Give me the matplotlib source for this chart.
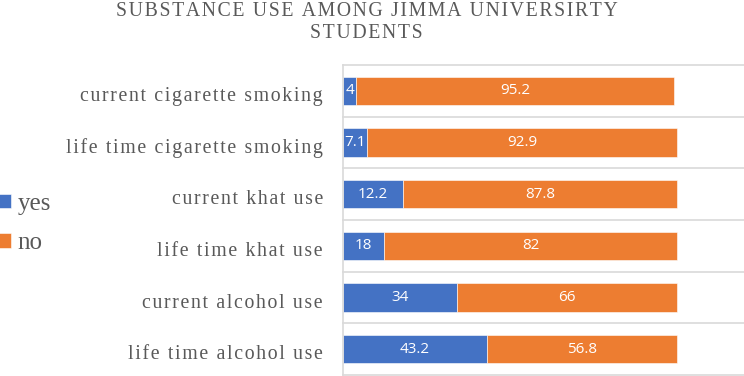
import matplotlib
matplotlib.use("Agg")
import matplotlib.pyplot as plt
import matplotlib.transforms as mtransforms
import numpy as np

categories = ["life time alcohol use", "current alcohol use", "life time khat use",
              "current khat use", "life time cigarette smoking", "current cigarette smoking"]
# bar lengths as drawn in the reference (khat rows' bars do not match their printed labels)
yes_vals = [43.2, 34, 12.2, 18, 7.1, 4]
no_vals = [56.8, 66, 87.8, 82, 92.9, 95.2]
# printed data labels as shown in the reference
yes_labels = ["43.2", "34", "18", "12.2", "7.1", "4"]
no_labels = ["56.8", "66", "82", "87.8", "92.9", "95.2"]
title = "SUBSTANCE USE AMONG JIMMA UNIVERSIRTY\nSTUDENTS"

BLUE = "#4472C4"
ORANGE = "#ED7D31"
GRAY = "#595959"
GRID = "#D9D9D9"
SERIF = ["Liberation Serif", "DejaVu Serif"]
HS = "\u200a"

def spaced(s):
    return HS.join(list(s))

fig = plt.figure(figsize=(7.44, 3.76), dpi=100)
ax = fig.add_axes([343/744, 1/376, 401/744, 310/376])

y = np.arange(len(categories))
ax.barh(y, yes_vals, height=0.55, color=BLUE, edgecolor="white", linewidth=0.4, label="yes")
ax.barh(y, no_vals, left=yes_vals, height=0.55, color=ORANGE, edgecolor="white", linewidth=0.4, label="no")

for i in range(len(categories)):
    ax.text(yes_vals[i] / 2, y[i], yes_labels[i], ha="center", va="center",
            color="white", fontsize=11, family="Open Sans")
    ax.text(yes_vals[i] + no_vals[i] / 2, y[i], no_labels[i], ha="center", va="center",
            color="white", fontsize=11, family="Open Sans")

ax.set_xlim(0, 120)
ax.set_ylim(-0.5, len(categories) - 0.5)
ax.set_xticks([])
ax.set_yticks(y)
ax.set_yticklabels([spaced(c) for c in categories], family=SERIF, fontsize=14.3, color=GRAY)
ax.tick_params(axis="y", length=0, pad=14.4)
offset = mtransforms.ScaledTranslation(0, -0.03, fig.dpi_scale_trans)
for lbl in ax.get_yticklabels():
    lbl.set_transform(lbl.get_transform() + offset)

for b in np.arange(-0.5, len(categories), 1.0):
    ax.axhline(b, color=GRID, linewidth=1.2, zorder=0, clip_on=False)
for s in ["top", "right", "bottom"]:
    ax.spines[s].set_visible(False)
ax.spines["left"].set_color(GRID)
ax.spines["left"].set_linewidth(1.2)

fig.text(0.493, 0.995, "\n".join(spaced(l) for l in title.split("\n")), ha="center", va="top",
         family=SERIF, fontsize=14.2, color=GRAY, linespacing=1.2)

handles, labels = ax.get_legend_handles_labels()
fig.legend(handles, labels, loc="center left", bbox_to_anchor=(-0.025, 0.405), frameon=False,
           prop={"family": SERIF, "size": 18}, labelcolor=GRAY, handlelength=0.5,
           handleheight=0.5, handletextpad=0.25, labelspacing=0.7, borderpad=0.2)

fig.savefig("out.png", dpi=100)
